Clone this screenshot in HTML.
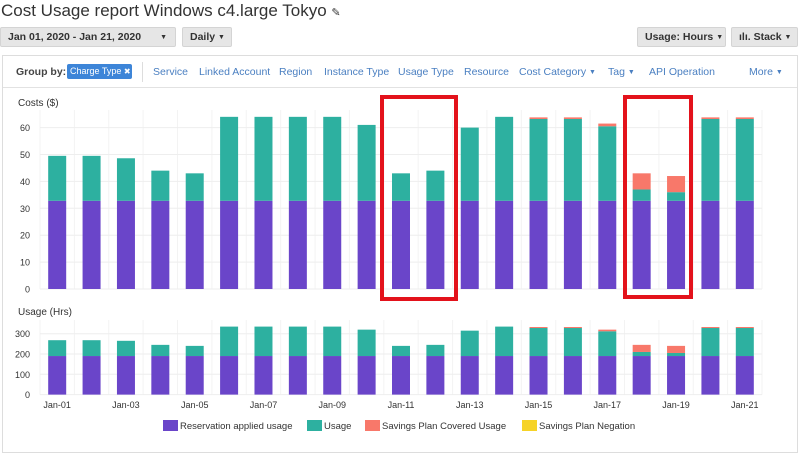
<!DOCTYPE html>
<html><head><meta charset="utf-8"><style>
body{margin:0;width:800px;height:454px;background:#fff;font-family:"Liberation Sans",sans-serif;overflow:hidden;position:relative}
.abs{position:absolute;white-space:nowrap}
.btn{position:absolute;white-space:nowrap;background:#e6e6e6;border:1px solid #d4d4d4;border-radius:2px;font-size:10.5px;font-weight:bold;color:#333;height:20px;line-height:19px;padding-left:7px;box-sizing:border-box}
.link{position:absolute;white-space:nowrap;top:66px;font-size:10.5px;color:#4a7fc1}
.car{font-size:7px;vertical-align:1px}
</style></head><body>
<div class="abs" style="left:1px;top:1px;font-size:17px;color:#333">Cost Usage report Windows c4.large Tokyo <span style="font-size:11px">✎</span></div>
<div class="btn" style="left:0;top:27px;width:176px">Jan 01, 2020 - Jan 21, 2020<span class="car" style="position:absolute;right:8px;top:0">▼</span></div>
<div class="btn" style="left:182px;top:27px;width:50px">Daily <span class="car">▼</span></div>
<div class="btn" style="left:637px;top:27px;width:89px">Usage: Hours <span class="car">▼</span></div>
<div class="btn" style="left:731px;top:27px;width:67px">ılı. Stack <span class="car">▼</span></div>
<div class="abs" style="left:2px;top:55px;width:794px;height:396px;border:1px solid #ddd"></div>
<div class="abs" style="left:3px;top:87px;width:794px;height:1px;background:#e2e2e2"></div>
<div class="abs" style="left:16px;top:66px;font-size:10.5px;font-weight:bold;color:#444">Group by:</div>
<div class="abs" style="left:67px;top:64px;width:65px;height:15px;background:#3d85d8;border-radius:2px;color:#fff;font-size:9px;line-height:15px;padding-left:3px;box-sizing:border-box">Charge Type <span style="font-size:8px">✖</span></div>
<div class="abs" style="left:142px;top:62px;width:1px;height:20px;background:#ddd"></div>
<div class="link" style="left:153px">Service</div>
<div class="link" style="left:199px">Linked Account</div>
<div class="link" style="left:279px">Region</div>
<div class="link" style="left:324px">Instance Type</div>
<div class="link" style="left:398px">Usage Type</div>
<div class="link" style="left:464px">Resource</div>
<div class="link" style="left:519px">Cost Category <span class="car">▼</span></div>
<div class="link" style="left:608px">Tag <span class="car">▼</span></div>
<div class="link" style="left:649px">API Operation</div>
<div class="link" style="left:749px">More <span class="car">▼</span></div>
<svg id="chart" class="abs" style="left:0;top:0" width="800" height="454"></svg>
<script>
const categories=["Jan-01","Jan-02","Jan-03","Jan-04","Jan-05","Jan-06","Jan-07","Jan-08","Jan-09","Jan-10","Jan-11","Jan-12","Jan-13","Jan-14","Jan-15","Jan-16","Jan-17","Jan-18","Jan-19","Jan-20","Jan-21"];
const costReserved=[32.8,32.8,32.8,32.8,32.8,32.8,32.8,32.8,32.8,32.8,32.8,32.8,32.8,32.8,32.8,32.8,32.8,32.8,32.8,32.8,32.8];
const costUsage=[16.7,16.7,15.8,11.2,10.2,31.2,31.2,31.2,31.2,28.2,10.2,11.2,27.2,31.2,30.4,30.4,27.7,4.2,3.2,30.4,30.4];
const costCovered=[0,0,0,0,0,0,0,0,0,0,0,0,0,0,0.6,0.6,1,6,6,0.6,0.6];
const hrsReserved=[190,190,190,190,190,190,190,190,190,190,190,190,190,190,190,190,190,190,190,190,190];
const hrsUsage=[78,78,75,55,50,145,145,145,145,130,50,55,125,145,138,138,122,20,15,138,138];
const hrsCovered=[0,0,0,0,0,0,0,0,0,0,0,0,0,0,5,5,8,35,35,5,5];
const costTicks=[0,10,20,30,40,50,60];
const hrsTicks=[0,100,200,300];
const legendLabels=["Reservation applied usage","Usage","Savings Plan Covered Usage","Savings Plan Negation"];
const colors=["#6a45c9","#2db0a0","#f8786a","#f6d327"];
const svg=document.getElementById('chart');const NS="http://www.w3.org/2000/svg";
function mk(t,a,txt){const e=document.createElementNS(NS,t);for(const k in a)e.setAttribute(k,a[k]);if(txt!==undefined)e.textContent=txt;svg.appendChild(e);return e;}
const xL=40,xR=762,n=categories.length,step=(xR-xL)/n;
const xc=i=>xL+step*(i+0.5);
const yCost=v=>289-v*2.69;
const yHrs=v=>394.6-v*0.203;
function panel(title,ty,ticks,yf,top,series,name){
  let t=mk('text',{x:18,y:ty,'font-size':10,fill:'#333'},title);
  
  for(let i=0;i<=n;i++){mk('line',{x1:xL+step*i,x2:xL+step*i,y1:top,y2:yf(0),stroke:'#f3f3f3'});}
  ticks.forEach(v=>{mk('line',{x1:xL,x2:xR,y1:yf(v),y2:yf(v),stroke:'#eee'});
    let l=mk('text',{x:30,y:yf(v)+3.5,'font-size':9,fill:'#333','text-anchor':'end'},v);
    });
  categories.forEach((c,i)=>{let base=0;series.forEach((s,si)=>{const v=s[i];if(v<=0)return;
    const r=mk('rect',{x:xc(i)-9,y:yf(base+v),width:18,height:yf(base)-yf(base+v),fill:colors[si]});
    base+=v;});});
}
panel('Costs ($)',106,costTicks,yCost,110,[costReserved,costUsage,costCovered],'cost');
panel('Usage (Hrs)',315,hrsTicks,yHrs,320,[hrsReserved,hrsUsage,hrsCovered],'usage');
categories.forEach((c,i)=>{if(i%2)return;const l=mk('text',{x:xc(i),y:408,'font-size':9,fill:'#333','text-anchor':'middle'},c);
  });
const lx=[163,307,365,522];
legendLabels.forEach((s,i)=>{const r=mk('rect',{x:lx[i],y:420,width:15,height:11,fill:colors[i]});
  
  const t=mk('text',{x:lx[i]+17,y:429,'font-size':9.5,fill:'#333'},s);
  });
[[382,97,74,202],[625,97,66,200]].forEach(b=>{const r=mk('rect',{x:b[0],y:b[1],width:b[2],height:b[3],fill:'none',stroke:'#e3121b','stroke-width':4});
  });
</script>
</body></html>
